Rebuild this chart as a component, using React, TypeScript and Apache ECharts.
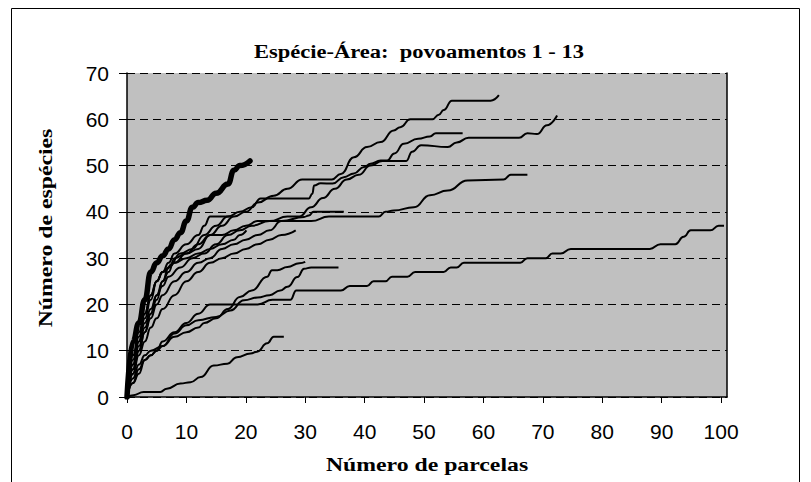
import React, { useEffect, useRef } from "react";
import * as echarts from "echarts";

const titleText = "Espécie-Área:  povoamentos 1 - 13";
const xAxisTitle = "Número de parcelas";
const yAxisTitle = "Número de espécies";
const xTickValues = [0, 10, 20, 30, 40, 50, 60, 70, 80, 90, 100];

// thick curve
const thickSeries = [[0,0],[1,12],[2,16],[3,21],[4,27],[5,29],[6,30.5],[7,32],[8,34],[9,35.5],[10,38],[11,41],[12,42],[13.5,42.5],[15,44],[17,46],[18,49],[19,50],[20.7,51]];
const pov1 = [[0,0],[1,9],[2,14],[3,18],[4,22],[5,25],[6,27],[8,29],[10,31],[12,32],[14,35],[16,37],[18,39],[20,40],[22,42],[24.7,43.5],[27,45],[29.5,47],[34.5,47],[36,48.2],[38.2,51.8],[40.4,54],[42.7,55.1],[44.9,57.6],[46,58.3],[47.7,60],[51.4,60],[52.5,61],[53.3,62],[54.7,64],[61.2,64],[62.6,65.2]];
const pov2 = [[0,0],[1,7],[2,12],[3,16],[4,19],[5,22],[6,24],[7,26],[9,28],[11,30],[13,31],[15,33],[17,35],[19,36],[21,37],[24,38],[27,39],[29,39],[31,41],[33,43],[35,45],[37,47],[39,48],[41,50],[43,51],[47,51],[48,53],[49.5,54.4],[54,54],[55.5,55],[57.5,56],[66,56],[67.4,57],[69,56.8],[70.7,58.7],[72.4,60.8]];
const pov3 = [[0,0],[1,6],[2,11],[3,15],[4,18],[5,21],[6,25],[7,28],[9,31],[11,32],[13,35],[15,37],[17,39],[19,40],[21,41],[22.5,42.9],[30.6,42.9],[31.2,43.9],[31.5,45.7],[32.6,46.2],[34.6,46.1],[36.5,47.5],[38.2,48.3],[39.9,49.7],[41,50.4],[42.7,51.1],[43.8,51.1],[45,52.6],[46.6,54.7],[49,55.8],[51,56.3],[52,57],[56.5,57]];
const pov4 = [[0,0],[1,5],[2,10],[3,14],[4,18],[5,22],[6,25],[7,27],[8,30],[10,31],[12,33],[14,35],[16,35],[18,36],[20,37],[22,38],[31,38],[34,39],[42.4,39],[43.5,40],[44.9,40.3],[48.3,41],[51,43.6],[54,44.6],[57.3,46.8],[63.4,47],[64.6,48],[67.4,48]];
const pov5 = [[0,0],[1,3],[2,5],[3,8],[4,9],[5,10],[6,12],[8,14],[10,16],[12,18],[14,20],[22,20],[24.5,21],[27.5,21],[28.5,23],[36,23],[37.5,24],[40.4,24],[41.5,25],[43.5,25],[44.6,26],[47.2,26],[48.5,27],[53.3,27],[54.5,28],[55.5,28],[56.7,29],[66.2,29],[67.4,30],[70.5,30],[71.6,31],[73,31],[74.7,32],[88,32],[89.8,33],[92.3,33],[93.7,34.6],[94.9,36],[98.2,36],[99.6,37],[100.5,37]];
const pov6 = [[0,0],[1,6],[2,10],[3,14],[4,17],[5,20],[6,22],[8,25],[10,27],[12,29],[14,30],[16,32],[18,33],[20,34],[22,35],[24,36],[26,38],[29.8,38.9],[30.6,39.2],[31.4,40],[36.5,40]];
const pov7 = [[0,0],[1,8],[2,13],[3,18],[4,22],[5,25],[6,27],[7,28],[8,29],[10,30],[12,31],[14,32],[16,33],[18,34],[19,35],[20.1,36]];
const pov8 = [[0,0],[1,5],[2,9],[3,12],[4,15],[5,17],[6,19],[8,22],[10,25],[12,27],[14,29],[16,30],[18,31],[20,32],[22,33],[24,34],[26,35],[28.4,36]];
const pov9 = [[0,0],[1.1,0.4],[2.8,1.1],[5.6,1.1],[6.7,1.8],[9,2.9],[10.7,3.2],[12.4,4.3],[14.6,6.8],[16.9,7.2],[18.5,8.6],[20.8,9.4],[21.9,9.8],[23.6,11.6],[24.7,13],[26.4,13]];
const pov10 = [[0,0],[1,4],[2,7],[3,9],[4,10],[6,11],[8,13],[10,14],[12,15],[13,16],[15,17],[17,19],[19,21.6],[21,23],[23.6,26],[24.4,27.4],[25.3,27.4],[27,28.1],[29,28.9],[30,29.2]];
const pov11 = [[0,0],[1,3],[2,6],[3,8],[4,9],[5,10],[6,11],[8,13.7],[10,15.5],[12,16.6],[15,17.3],[17.4,18.7],[19.7,20.9],[22,21.5],[24,22],[25.8,23],[27,23.8],[28.7,25.9],[29.8,27.7],[31,28],[35.6,28]];
const pov12 = [[0,0],[1,7],[2,12],[3,17],[4,21],[5,25],[6,27],[7,29],[8,31],[10,33],[12,35],[13,37],[14,39],[17.3,39]];

const thinSeries = [pov1, pov2, pov3, pov4, pov5, pov6, pov7, pov8, pov9, pov10, pov11, pov12];

export default function App() {
  const ref = useRef<HTMLDivElement>(null);
  useEffect(() => {
    document.body.style.margin = "0";
    const chart = echarts.init(ref.current!, null, { renderer: "svg" });
    const serif = "'Liberation Serif', 'Times New Roman', serif";
    const sans = "'Liberation Sans', Arial, sans-serif";
    const lineSeries: any[] = thinSeries.map((d, i) => ({
      name: "Povoamento " + (i + 1),
      type: "line",
      data: d,
      showSymbol: false,
      smooth: 0.5,
      smoothMonotone: "x",
      lineStyle: { color: "#000", width: 2 },
      z: 3,
    }));
    lineSeries.push({
      name: "Povoamento 13",
      type: "line",
      data: thickSeries,
      showSymbol: false,
      smooth: 0.5,
      smoothMonotone: "x",
      lineStyle: { color: "#000", width: 5.5, cap: "round", join: "round" },
      z: 4,
    });
    chart.setOption({
      animation: false,
      backgroundColor: "#fff",
      grid: {
        left: 127,
        top: 73,
        right: 84,
        bottom: 85,
        show: true,
        backgroundColor: "#C0C0C0",
        borderWidth: 0,
        containLabel: false,
        outerBoundsMode: "none",
      },
      xAxis: {
        type: "value",
        min: 0,
        max: 101,
        interval: 10,
        axisLine: { show: true, lineStyle: { color: "#000", width: 1.5 } },
        axisTick: { show: true, length: 6, inside: false, lineStyle: { color: "#000" }, customValues: xTickValues },
        axisLabel: { color: "#000", fontSize: 21, fontFamily: sans, margin: 24, customValues: xTickValues },
        splitLine: { show: false },
      },
      yAxis: [
        {
          type: "value",
          min: 0,
          max: 70,
          interval: 10,
          axisLine: { show: true, lineStyle: { color: "#000", width: 1.5 } },
          axisTick: { show: true, length: 8, inside: false, lineStyle: { color: "#000" } },
          axisLabel: { color: "#000", fontSize: 21, fontFamily: sans, margin: 18 },
          splitLine: { show: true, lineStyle: { color: "#000", type: [8, 5], width: 1 } },
        },
        {
          type: "value",
          position: "right",
          min: 0,
          max: 70,
          axisLine: { show: true, lineStyle: { color: "#000", width: 1.5 } },
          axisTick: { show: false },
          axisLabel: { show: false },
          splitLine: { show: false },
        },
      ],
      graphic: [
        {
          type: "rect",
          shape: { x: 11.5, y: 8.5, width: 788, height: 490 },
          style: { stroke: "#000", fill: "none", lineWidth: 1 },
          silent: true,
        },
        {
          type: "text",
          x: 419,
          y: 52,
          scaleX: 1.25,
          style: { text: titleText, font: "bold 18px " + serif, fill: "#000", textAlign: "center", textVerticalAlign: "middle" },
        },
        {
          type: "text",
          x: 427,
          y: 465,
          scaleX: 1.25,
          style: { text: xAxisTitle, font: "bold 19px " + serif, fill: "#000", textAlign: "center", textVerticalAlign: "middle" },
        },
        {
          type: "text",
          x: 46,
          y: 228,
          rotation: Math.PI / 2,
          scaleX: 1.25,
          style: { text: yAxisTitle, font: "bold 19px " + serif, fill: "#000", textAlign: "center", textVerticalAlign: "middle" },
        },
      ],
      series: lineSeries,
    });
    return () => chart.dispose();
  }, []);
  return <div ref={ref} style={{ width: 811, height: 482 }} />;
}
